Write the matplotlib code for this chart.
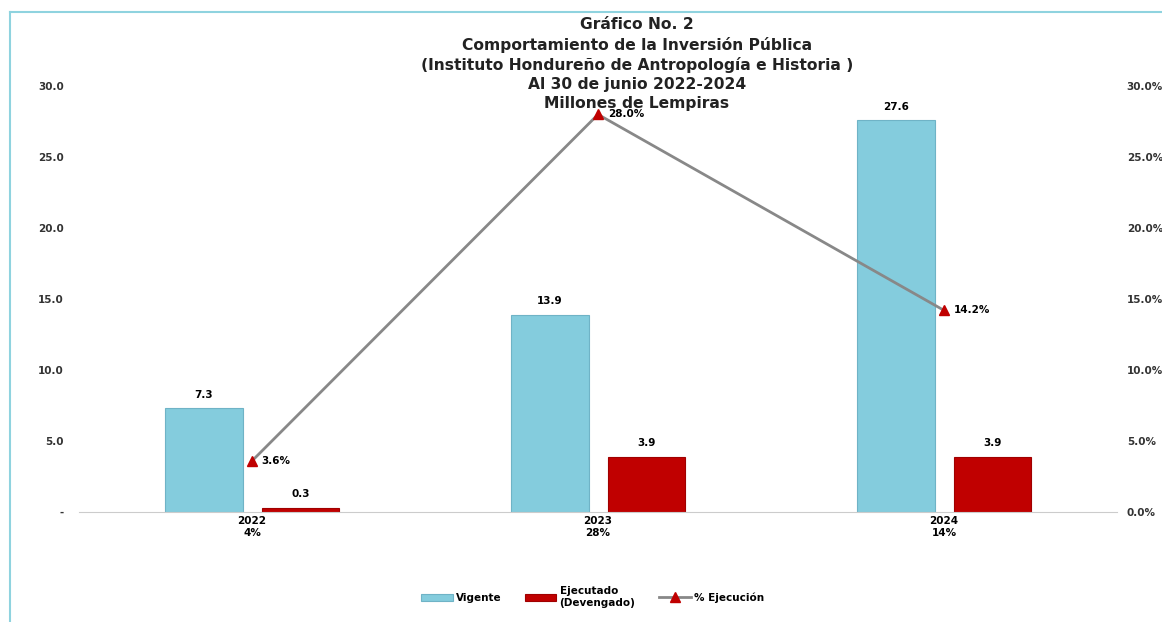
import matplotlib
matplotlib.use("Agg")
import matplotlib.pyplot as plt
from matplotlib.lines import Line2D
import numpy as np

years = ["2022", "2023", "2024"]
pct_labels = ["4%", "28%", "14%"]
vigente = [7.3, 13.9, 27.6]
ejecutado = [0.3, 3.9, 3.9]
ejecucion_pct = [3.6, 28.0, 14.2]

title = ("Gráfico No. 2\nComportamiento de la Inversión Pública\n"
         "(Instituto Hondureño de Antropología e Historia )\n"
         "Al 30 de junio 2022-2024\nMillones de Lempiras")

c_vig = "#84CCDD"
c_eje = "#C00000"
c_line = "#888888"
plt.rcParams['font.family'] = ['DejaVu Sans']
plt.rcParams['font.weight'] = 'bold'

fig = plt.figure(figsize=(11.62, 6.22), dpi=100)
ax = fig.add_axes([0.068, 0.1768, 0.8933, 0.6849])
x = np.arange(len(years))
w = 0.225
off = 0.14
b1 = ax.bar(x - off, vigente, w, color=c_vig, edgecolor="#6fb3c6", linewidth=0.8, label="Vigente")
b2 = ax.bar(x + off, ejecutado, w, color=c_eje, edgecolor="#a00000", linewidth=0.8, label="Ejecutado\n(Devengado)")
ax.set_xlim(-0.5, 2.5)
ax.set_ylim(0, 30)
ax.set_yticks(np.arange(0, 31, 5))
ax.set_yticklabels(["-" if v == 0 else f"{v:.1f}" for v in np.arange(0, 31, 5)])
ax.set_xticks(x)
ax.set_xticklabels([f"{y}\n{p}" for y, p in zip(years, pct_labels)], fontsize=7.5, fontweight='bold')
for s in ["top", "right", "left"]:
    ax.spines[s].set_visible(False)
ax.spines["bottom"].set_color("#cccccc")
ax.tick_params(axis='y', length=0, labelsize=7.5, pad=11, colors="#333333")
ax.tick_params(axis='x', length=0, labelsize=7.5, pad=3)

for xi, v in zip(x - off, vigente):
    ax.annotate(f"{v:.1f}", (xi, v), xytext=(0, 6), textcoords="offset points",
                ha="center", va="bottom", fontsize=7.5, fontweight='bold')
for xi, v in zip(x + off, ejecutado):
    ax.annotate(f"{v:.1f}", (xi, v), xytext=(0, 6), textcoords="offset points",
                ha="center", va="bottom", fontsize=7.5, fontweight='bold')

ax2 = ax.twinx()
ax2.set_ylim(0, 30)
ax2.set_yticks(np.arange(0, 31, 5))
ax2.set_yticklabels([f"{v:.1f}%" for v in np.arange(0, 31, 5)])
for s in ["top", "right", "left", "bottom"]:
    ax2.spines[s].set_visible(False)
ax2.tick_params(axis='y', length=0, labelsize=7.5, pad=7, colors="#333333")
ln, = ax2.plot(x, ejecucion_pct, color=c_line, linewidth=2, marker="^", markersize=7,
               markerfacecolor=c_eje, markeredgecolor=c_eje, label="% Ejecución")
for xi, v in zip(x, ejecucion_pct):
    ax2.annotate(f"{v:.1f}%", (xi, v), xytext=(7, 0), textcoords="offset points",
                 ha="left", va="center", fontsize=7.5, fontweight='bold')

fig.text(0.548, 0.972, title, ha="center", va="top", fontsize=11.2, fontweight='bold',
         linespacing=1.33, color="#222222")

fig.legend(handles=[b1, b2, ln], loc="center", bbox_to_anchor=(0.51, 0.04), ncol=3,
           frameon=False, fontsize=7.5, handlelength=3, columnspacing=2.3, handletextpad=0.3)

fig.add_artist(Line2D([0.009, 0.009], [0, 0.981], transform=fig.transFigure, color="#8fd3df", lw=1.5))
fig.add_artist(Line2D([0.009, 1.0], [0.981, 0.981], transform=fig.transFigure, color="#8fd3df", lw=1.5))

fig.savefig("out.png", dpi=100)
